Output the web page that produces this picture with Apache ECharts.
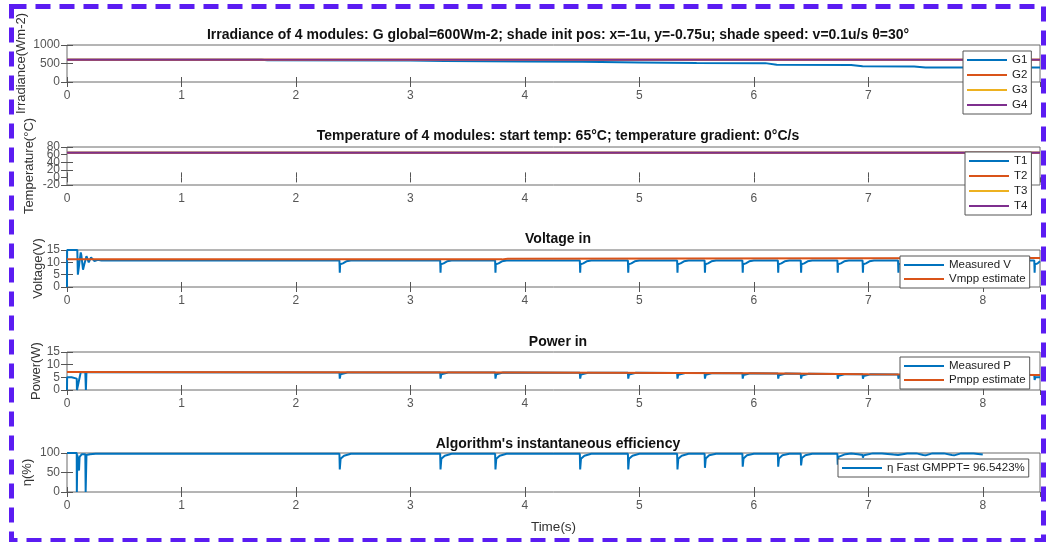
<!DOCTYPE html>
<html>
<head>
<meta charset="utf-8">
<script src="https://cdn.jsdelivr.net/npm/echarts@6/dist/echarts.min.js"></script>
<style>
  html, body { margin: 0; padding: 0; background: #fff; }
  #main { width: 1047px; height: 542px; }
</style>
</head>
<body>
<div id="main"></div>
<script>
// 数据 [时间(s), 数值]
var irrG1 = [[0,600],[1.7,600],[1.75,590],[3,580],[3.3,565],[4,555],[4.5,545],[5,530],[5.5,515],[6.1,510],[6.2,465],[6.85,460],[6.95,425],[7.4,420],[7.5,395],[8.5,390]];
var irrG2 = [[0,600],[8.5,600]];
var irrG3 = [[0,600],[8.5,600]];
var irrG4 = [[0,600],[8.5,600]];

var tempT1 = [[0,65],[8.5,65]];
var tempT2 = [[0,65],[8.5,65]];
var tempT3 = [[0,65],[8.5,65]];
var tempT4 = [[0,65],[8.5,65]];

var voltMeasured = [
  [0,0],[0.001,15],[0.09,15],[0.095,5],[0.1,5.5],[0.12,14],[0.125,13],[0.14,7],[0.15,9],[0.17,12.5],[0.19,10],[0.21,12],[0.24,10.5],[0.27,11],[0.3,10.7],
  [2.38,10.7],[2.383,5.8],[2.386,9.2],[2.41,9.6],[2.44,10.4],[2.48,10.7],
  [3.26,10.7],[3.263,5.8],[3.266,9.2],[3.29,9.6],[3.32,10.4],[3.36,10.7],
  [3.74,10.7],[3.743,5.8],[3.746,9.2],[3.77,9.6],[3.8,10.4],[3.84,10.7],
  [4.48,10.7],[4.483,5.8],[4.486,9.2],[4.51,9.6],[4.54,10.4],[4.58,10.7],
  [4.9,10.7],[4.903,5.8],[4.906,9.2],[4.93,9.6],[4.96,10.4],[5.0,10.7],
  [5.33,10.7],[5.333,5.8],[5.336,9.2],[5.36,9.6],[5.39,10.4],[5.43,10.7],
  [5.57,10.7],[5.573,5.8],[5.576,9.2],[5.6,9.6],[5.63,10.4],[5.67,10.7],
  [5.9,10.7],[5.903,5.8],[5.906,9.2],[5.93,9.6],[5.96,10.4],[6.0,10.7],
  [6.21,10.7],[6.213,5.8],[6.216,9.2],[6.24,9.6],[6.27,10.4],[6.31,10.7],
  [6.41,10.7],[6.413,5.8],[6.416,9.2],[6.44,9.6],[6.47,10.4],[6.51,10.7],
  [6.73,10.7],[6.733,5.8],[6.736,9.2],[6.76,9.6],[6.79,10.4],[6.83,10.7],
  [6.95,10.7],[6.953,5.8],[6.956,9.2],[6.98,9.6],[7.01,10.4],[7.05,10.7],
  [7.26,10.7],[7.263,5.8],[7.266,9.2],[7.29,9.6],[7.32,10.4],[7.36,10.7],
  [8.45,10.7],[8.453,5.8],[8.456,9.2],[8.48,9.6],[8.5,10.4]
];
var voltMpp = [[0,11.2],[3.8,11.2],[3.85,11.5],[7,11.7],[8.5,11.8]];

var powMeasured = [
  [0,0],[0.001,5],[0.04,5],[0.085,4.5],[0.087,0],[0.09,0],[0.12,7],[0.16,7],[0.165,0],[0.17,7],[0.2,7],
  [2.38,6.9],[2.383,4.5],[2.39,6.2],[2.45,6.9],
  [3.26,6.9],[3.263,4.5],[3.27,6.2],[3.33,6.9],
  [3.74,6.9],[3.743,4.5],[3.75,6.2],[3.81,6.9],
  [4.48,6.8],[4.483,4.5],[4.49,6.1],[4.55,6.8],
  [4.9,6.8],[4.903,4.5],[4.91,6.1],[4.97,6.8],
  [5.33,6.7],[5.333,4.5],[5.34,6.0],[5.4,6.7],
  [5.57,6.7],[5.573,4.5],[5.58,6.0],[5.64,6.7],
  [5.9,6.6],[5.903,4.5],[5.91,5.9],[5.97,6.6],
  [6.21,6.5],[6.213,4.5],[6.22,5.8],[6.28,6.5],
  [6.41,6.4],[6.413,4.5],[6.42,5.7],[6.48,6.4],
  [6.73,6.3],[6.733,4.5],[6.74,5.6],[6.8,6.3],
  [6.95,6.2],[6.953,4.5],[6.96,5.5],[7.02,6.2],
  [7.26,6.1],[7.263,4.5],[7.27,5.4],[7.33,6.1],
  [8.45,5.9],[8.453,4.0],[8.46,5.0],[8.5,5.0]
];
var powMpp = [[0,7.1],[4,6.9],[6,6.6],[7,6.2],[8.5,5.9]];

var effFast = [
  [0,100],[0.085,100],[0.086,0],[0.088,0],[0.09,95],[0.1,97],[0.105,55],[0.11,90],[0.13,97],[0.16,97],[0.163,0],[0.168,0],[0.17,95],[0.2,97],[0.25,98],
  [2.38,98],[2.383,58],[2.39,85],[2.42,93],[2.48,98],
  [3.26,98],[3.263,58],[3.27,85],[3.3,93],[3.36,98],
  [3.74,98],[3.743,58],[3.75,85],[3.78,93],[3.84,98],
  [4.48,98],[4.483,58],[4.49,85],[4.52,93],[4.58,98],
  [4.9,98],[4.903,58],[4.91,85],[4.94,93],[5.0,98],
  [5.33,98],[5.333,58],[5.34,85],[5.37,93],[5.43,98],
  [5.57,98],[5.573,62],[5.58,86],[5.61,94],[5.67,98],
  [5.9,98],[5.903,65],[5.91,86],[5.94,94],[6.0,98],
  [6.21,98],[6.213,65],[6.22,86],[6.25,94],[6.31,98],
  [6.41,98],[6.413,68],[6.42,87],[6.45,94],[6.51,98],
  [6.73,98],[6.733,70],[6.74,90],[6.8,97],[6.85,99],[6.91,97],
  [6.95,95],[6.953,88],[6.96,94],[7.04,99],[7.12,99],[7.22,96],
  [7.26,95],[7.263,90],[7.27,94],[7.34,99],[7.42,99],[7.48,95],
  [7.5,94],[7.56,99],[7.66,99],[7.73,95],
  [7.75,94],[7.81,99],[7.92,99],[8.0,96]
];

var titles = [
  'Irradiance of 4 modules: G global=600Wm-2; shade init pos: x=-1u, y=-0.75u; shade speed: v=0.1u/s θ=30°',
  'Temperature of 4 modules: start temp: 65°C; temperature gradient: 0°C/s',
  'Voltage in',
  'Power in',
  "Algorithm's instantaneous efficiency"
];
var yNames = ['Irradiance(Wm-2)', 'Temperature(°C)', 'Voltage(V)', 'Power(W)', 'η(%)'];
var yRanges = [[0, 1000, 500], [-20, 80, 20], [0, 15, 5], [0, 15, 5], [0, 100, 50]];
// 温度轴被挤掉的两个刻度标签
var tempExtraLabels = [0, 60];

// 布局
var gridTops = [45, 147, 250, 352, 453];
var gridHeights = [37, 38, 37, 38, 39];
var nameGaps = [39, 31, 22, 24, 33];
var titleTops = [23, 124, 227, 330, 432];
var C = ['#0072BD', '#D95319', '#EDB120', '#7E2F8E'];
var FONT = 'Liberation Sans, Arial, sans-serif';

var chart = echarts.init(document.getElementById('main'));

var grids = [], xAxes = [], yAxes = [], titleArr = [];
for (var i = 0; i < 5; i++) {
  grids.push({ left: 67, right: 7, top: gridTops[i], height: gridHeights[i], show: true, borderColor: '#6b6b6b', borderWidth: 1, backgroundColor: '#fff' });
  titleArr.push({ text: titles[i], left: 553, top: titleTops[i], textAlign: 'center', textStyle: { fontSize: 14, fontWeight: 'bold', color: '#111', fontFamily: FONT } });
}
// 下方 x 轴
for (var i = 0; i < 5; i++) {
  xAxes.push({
    type: 'value', gridIndex: i, min: 0, max: 8.5, interval: 1, position: 'bottom',
    axisLine: { show: false },
    axisTick: { show: true, inside: true, length: 5, lineStyle: { color: '#555' } },
    axisLabel: { color: '#555', fontSize: 12, margin: 8, showMaxLabel: false, fontFamily: FONT },
    splitLine: { show: false },
    name: i === 4 ? 'Time(s)' : '', nameLocation: 'middle', nameGap: 28, nameMoveOverlap: false,
    nameTextStyle: { color: '#333', fontSize: 13.5, fontFamily: FONT }
  });
}
// 上方 x 轴（只画刻度）
for (var i = 0; i < 5; i++) {
  xAxes.push({
    type: 'value', gridIndex: i, min: 0, max: 8.5, interval: 1, position: 'top',
    axisLine: { show: false }, axisLabel: { show: false }, splitLine: { show: false },
    axisTick: { show: true, inside: true, length: 5, lineStyle: { color: '#555' } }
  });
}
for (var i = 0; i < 5; i++) {
  yAxes.push({
    type: 'value', gridIndex: i, min: yRanges[i][0], max: yRanges[i][1], interval: yRanges[i][2],
    axisLine: { show: false },
    axisTick: { show: true, inside: true, length: 6, lineStyle: { color: '#555' } },
    axisLabel: {
      color: '#555', fontSize: 12, margin: 7, fontFamily: FONT,
      showMinLabel: true, showMaxLabel: true, hideOverlap: false,
      formatter: function (v) { return String(v); }
    },
    splitLine: { show: false },
    name: yNames[i], nameLocation: 'middle', nameRotate: 90, nameGap: nameGaps[i], nameMoveOverlap: false,
    nameTextStyle: { color: '#333', fontSize: 13, fontFamily: FONT }
  });
}
for (var i = 0; i < 5; i++) {
  yAxes.push({
    type: 'value', gridIndex: i, position: 'right', min: yRanges[i][0], max: yRanges[i][1], interval: yRanges[i][2],
    axisLine: { show: false }, axisLabel: { show: false }, splitLine: { show: false },
    axisTick: { show: true, inside: true, length: 6, lineStyle: { color: '#555' } }
  });
}
// 温度图：第二条左轴，补上 0 和 60 两个标签（MATLAB 里它们是重叠显示的）
yAxes.push({
  type: 'value', gridIndex: 1, position: 'left', offset: 0,
  min: yRanges[1][0], max: yRanges[1][1], interval: yRanges[1][2],
  axisLine: { show: false }, axisTick: { show: false }, splitLine: { show: false },
  axisLabel: {
    color: '#555', fontSize: 12, margin: 7, fontFamily: FONT,
    showMinLabel: false, showMaxLabel: false,
    formatter: function (v) { return tempExtraLabels.indexOf(v) >= 0 ? String(v) : ''; }
  }
});

function line(name, data, idx, color) {
  return {
    name: name, type: 'line', data: data, xAxisIndex: idx, yAxisIndex: idx,
    showSymbol: false, symbol: 'none', animation: false,
    lineStyle: { color: color, width: 2 }, itemStyle: { color: color }
  };
}

function legendBox(names, left, top, gap) {
  return {
    data: names, orient: 'vertical', left: left, top: top,
    icon: 'rect', itemWidth: 40, itemHeight: 2, itemGap: gap,
    padding: [3, 4, 3, 4],
    backgroundColor: '#fff', borderColor: '#555', borderWidth: 1,
    textStyle: { fontSize: 11.5, color: '#222', fontFamily: FONT }
  };
}

chart.setOption({
  backgroundColor: '#fff',
  animation: false,
  title: titleArr,
  grid: grids,
  xAxis: xAxes,
  yAxis: yAxes,
  legend: [
    legendBox(['G1', 'G2', 'G3', 'G4'], 963, 51, 3),
    legendBox(['T1', 'T2', 'T3', 'T4'], 965, 152, 3),
    legendBox(['Measured V', 'Vmpp estimate'], 900, 256, 2),
    legendBox(['Measured P', 'Pmpp estimate'], 900, 357, 2),
    legendBox(['η Fast GMPPT= 96.5423%'], 838, 459, 2)
  ],
  series: [
    line('G1', irrG1, 0, C[0]),
    line('G2', irrG2, 0, C[1]),
    line('G3', irrG3, 0, C[2]),
    line('G4', irrG4, 0, C[3]),
    line('T1', tempT1, 1, C[0]),
    line('T2', tempT2, 1, C[1]),
    line('T3', tempT3, 1, C[2]),
    line('T4', tempT4, 1, C[3]),
    line('Measured V', voltMeasured, 2, C[0]),
    line('Vmpp estimate', voltMpp, 2, C[1]),
    line('Measured P', powMeasured, 3, C[0]),
    line('Pmpp estimate', powMpp, 3, C[1]),
    line('η Fast GMPPT= 96.5423%', effFast, 4, C[0])
  ],
  graphic: [{
    type: 'rect', left: 9, top: 4, silent: true, z: 100,
    shape: { width: 1032, height: 534 },
    style: { fill: 'none', stroke: '#5b1cf2', lineWidth: 5, lineDash: [15, 9] }
  }]
});
</script>
</body>
</html>
